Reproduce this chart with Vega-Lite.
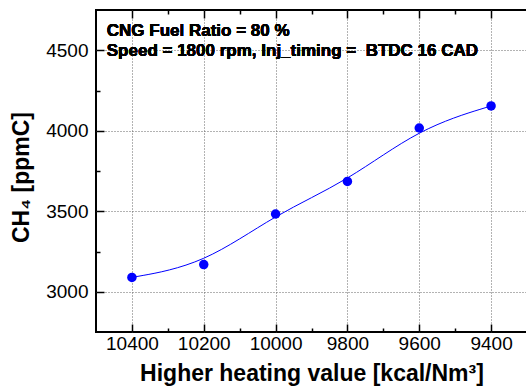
{
  "$schema": "https://vega.github.io/schema/vega-lite/v6.json",
  "autosize": {"type": "none"},
  "padding": {"left": 96, "top": 10, "right": 0, "bottom": 55},
  "width": 431,
  "height": 322,
  "background": "white",
  "config": {
    "font": "Liberation Sans",
    "view": {"stroke": "#000", "strokeWidth": 2},
    "axis": {
      "domain": false,
      "labelFont": "Liberation Sans",
      "labelFontSize": 19,
      "labelColor": "#000",
      "titleFont": "Liberation Sans",
      "titleFontWeight": "bold",
      "titleColor": "#000",
      "tickColor": "#000",
      "tickWidth": 1.5,
      "gridColor": "#666",
      "gridDash": [1, 2],
      "gridWidth": 1
    }
  },
  "data": {
    "values": [
      {"hhv": 10400, "ch4": 3089},
      {"hhv": 10200, "ch4": 3169},
      {"hhv": 10000, "ch4": 3483},
      {"hhv": 9800, "ch4": 3685},
      {"hhv": 9600, "ch4": 4017},
      {"hhv": 9400, "ch4": 4154}
    ]
  },
  "resolve": {"axis": {"x": "independent", "y": "independent"}},
  "layer": [
    {
      "mark": {"type": "line", "interpolate": "basis", "color": "#0000ff", "strokeWidth": 1},
      "encoding": {
        "x": {
          "field": "hhv", "type": "quantitative",
          "scale": {"domain": [10500, 9300], "nice": false, "zero": false},
          "axis": {
            "orient": "bottom",
            "values": [10400, 10300, 10200, 10100, 10000, 9900, 9800, 9700, 9600, 9500, 9400],
            "format": "d",
            "labelExpr": "datum.value % 200 === 0 ? datum.label : ''",
            "tickSize": {"condition": {"test": "datum.value % 200 === 0", "value": -8}, "value": -4},
            "gridOpacity": {"condition": {"test": "datum.value % 200 === 0", "value": 1}, "value": 0},
            "labelPadding": 10.5,
            "title": "Higher heating value [kcal/Nm³]",
            "titleFontSize": 23,
            "titlePadding": 9
          }
        },
        "y": {
          "field": "ch4", "type": "quantitative",
          "scale": {"domain": [2750, 4750], "nice": false, "zero": false},
          "axis": {
            "orient": "left",
            "values": [3000, 3250, 3500, 3750, 4000, 4250, 4500],
            "format": "d",
            "labelExpr": "datum.value % 500 === 0 ? datum.label : ''",
            "tickSize": {"condition": {"test": "datum.value % 500 === 0", "value": -8}, "value": -4},
            "gridOpacity": {"condition": {"test": "datum.value % 500 === 0", "value": 1}, "value": 0},
            "labelPadding": 16,
            "title": "CH₄ [ppmC]",
            "titleFontSize": 23,
            "titlePadding": 12,
            "titleY": 167
          }
        }
      }
    },
    {
      "mark": {"type": "circle", "color": "#0000ff", "opacity": 1, "size": 90},
      "encoding": {
        "x": {
          "field": "hhv", "type": "quantitative",
          "axis": {
            "orient": "top",
            "values": [10400, 10300, 10200, 10100, 10000, 9900, 9800, 9700, 9600, 9500, 9400],
            "labels": false,
            "grid": false,
            "title": null,
            "tickSize": {"condition": {"test": "datum.value % 200 === 0", "value": -8}, "value": -4}
          }
        },
        "y": {"field": "ch4", "type": "quantitative", "axis": null}
      }
    },
    {
      "mark": {
        "type": "text",
        "text": ["CNG Fuel Ratio = 80 %", "Speed = 1800 rpm, Inj_timing = \u00a0BTDC 16 CAD"],
        "align": "left",
        "baseline": "alphabetic",
        "fontWeight": "bold",
        "fontSize": 17,
        "lineHeight": 20,
        "color": "#000"
      },
      "encoding": {
        "x": {"datum": 10470, "type": "quantitative", "axis": null},
        "y": {"datum": 4589, "type": "quantitative", "axis": null}
      }
    }
  ]
}
